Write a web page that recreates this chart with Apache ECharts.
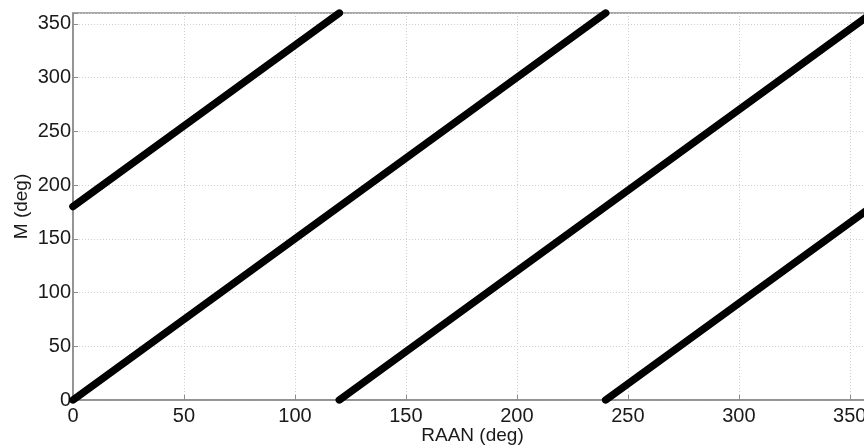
<!DOCTYPE html>
<html><head><meta charset="utf-8">
<script src="https://cdn.jsdelivr.net/npm/echarts@6/dist/echarts.min.js"></script>
<style>html,body{margin:0;padding:0;background:#fff}#c{width:864px;height:445px}</style>
</head><body><div id="c"></div>
<script>
// Each line: [RAAN, M] endpoints
const line1 = [[0, 180], [120, 360]];
const line2 = [[0, 0], [240, 360]];
const line3 = [[120, 0], [360, 360]];
const line4 = [[240, 0], [360, 180]];
const xTicks = [0, 50, 100, 150, 200, 250, 300, 350];
const yTicks = [0, 50, 100, 150, 200, 250, 300, 350];
const xName = 'RAAN (deg)';
const yName = 'M (deg)';

const font = 'Liberation Sans, Arial, sans-serif';
const chart = echarts.init(document.getElementById('c'), null, {renderer: 'canvas'});
function mk(d) {
  return {type: 'line', data: d, symbol: 'none', showSymbol: false,
    lineStyle: {color: '#000', width: 7.5, cap: 'round'}, z: 5, silent: true, animation: false};
}
const axisCommon = {
  axisLine: {show: true, onZero: false, lineStyle: {color: '#8c8c8c', width: 1.5}},
  axisTick: {show: true, inside: true, length: 5, lineStyle: {color: '#8c8c8c'}},
  splitLine: {show: true, lineStyle: {color: '#cfcfcf', type: [1, 2], width: 1}},
  axisLabel: {color: '#1a1a1a', fontFamily: font, fontSize: 20}
};
chart.setOption({
  animation: false,
  backgroundColor: '#fff',
  grid: {left: 73, right: -8, top: 13, bottom: 45, show: true, borderColor: '#8c8c8c', borderWidth: 1.5,
    containLabel: false, outerBoundsMode: 'none'},
  xAxis: Object.assign({type: 'value', min: 0, max: 360, interval: 50,
    name: xName, nameLocation: 'middle', nameGap: 26, nameMoveOverlap: false,
    nameTextStyle: {color: '#1a1a1a', fontFamily: font, fontSize: 19}}, axisCommon,
    {axisLabel: Object.assign({}, axisCommon.axisLabel, {margin: 6,
      formatter: v => xTicks.includes(v) ? String(v) : ''})}),
  yAxis: Object.assign({type: 'value', min: 0, max: 360, interval: 50,
    name: yName, nameLocation: 'middle', nameGap: 42, nameMoveOverlap: false,
    nameTextStyle: {color: '#1a1a1a', fontFamily: font, fontSize: 19}}, axisCommon,
    {axisLabel: Object.assign({}, axisCommon.axisLabel, {margin: 2,
      formatter: v => yTicks.includes(v) ? String(v) : ''})}),
  series: [mk(line1), mk(line2), mk(line3), mk(line4)]
});
</script></body></html>
